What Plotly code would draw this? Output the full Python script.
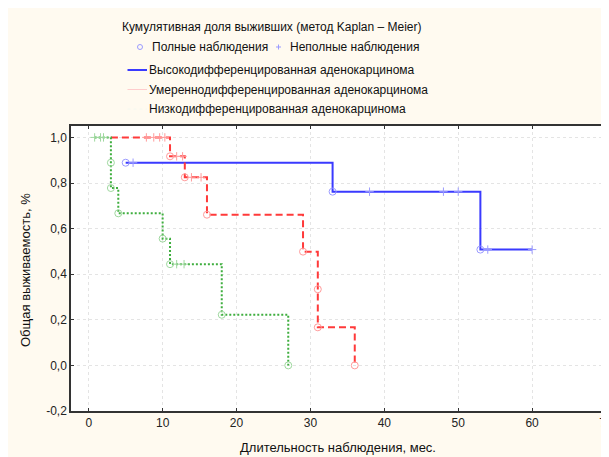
import plotly.graph_objects as go

# ---------------- data ----------------
# Step curves (Kaplan-Meier), points drawn with "hv" shape
high_t = [5, 33, 53, 60]
high_s = [0.889, 0.762, 0.508, 0.508]
mod_t = [3.0, 11, 13, 16, 29, 31, 36]
mod_s = [1.0, 0.917, 0.825, 0.661, 0.499, 0.167, 0.0]
low_t = [0.8, 3, 4, 10, 11, 18, 27]
low_s = [1.0, 0.778, 0.667, 0.556, 0.444, 0.222, 0.0]

# complete observations (events)
high_ev_t = [5, 33, 53]
high_ev_s = [0.889, 0.762, 0.508]
mod_ev_t = [11, 13, 16, 29, 31, 31, 36]
mod_ev_s = [0.917, 0.825, 0.661, 0.499, 0.334, 0.167, 0.0]
low_ev_t = [3, 3, 4, 10, 11, 18, 27]
low_ev_s = [0.889, 0.778, 0.667, 0.556, 0.444, 0.222, 0.0]

# censored observations
high_c_t = [6, 38, 48, 50, 54, 60]
high_c_s = [0.889, 0.762, 0.762, 0.762, 0.508, 0.508]
mod_c_t = [7.8, 8.8, 9.6, 10.3, 11.9, 12.7, 13.9, 15.2]
mod_c_s = [1.0, 1.0, 1.0, 1.0, 0.917, 0.917, 0.825, 0.825]
low_c_t = [0.8, 1.6, 2.0, 11.9, 12.9]
low_c_s = [1.0, 1.0, 1.0, 0.444, 0.444]

x_ticks = [0, 10, 20, 30, 40, 50, 60, 70]
y_ticks = [-0.2, 0.0, 0.2, 0.4, 0.6, 0.8, 1.0]
y_tick_text = ["-0,2", "0,0", "0,2", "0,4", "0,6", "0,8", "1,0"]

legend_title = "Кумулятивная доля выживших (метод Kaplan – Meier)"
legend_full = "Полные наблюдения"
legend_cens = "Неполные наблюдения"
group_names = ["Высокодифференцированная аденокарцинома",
               "Умереннодифференцированная аденокарцинома",
               "Низкодифференцированная аденокарцинома"]
x_title = "Длительность наблюдения, мес."
y_title = "Общая выживаемость, %"

# ---------------- styling ----------------
W, H = 609, 457
OFF = 8  # page body margin: figure is drawn 8px right/down in the window
L, R, T, B = 63, 11, 118, 54
PW, PH = W - L - R, H - T - B
FONT = "Arial, Liberation Sans, sans-serif"

BLUE, BLUE_L = "#3a3aff", "#9b9bff"
RED, RED_L = "#ff3a3a", "#ff9b9b"
GREEN, GREEN_L = "#3fae3f", "#9fd89f"


def px(x):
    # screen pixel x -> paper fraction
    return (x - OFF - L) / PW


def py(y):
    # screen pixel y -> paper fraction
    return (H - B - (y - OFF)) / PH


fig = go.Figure()

groups = [
    (high_t, high_s, high_ev_t, high_ev_s, high_c_t, high_c_s, BLUE, BLUE_L, "solid"),
    (mod_t, mod_s, mod_ev_t, mod_ev_s, mod_c_t, mod_c_s, RED, RED_L, "7px,4px"),
    (low_t, low_s, low_ev_t, low_ev_s, low_c_t, low_c_s, GREEN, GREEN_L, "2px,2px"),
]
for t, s, et, es, ct, cs, col, lcol, dash in groups:
    fig.add_trace(go.Scatter(x=t, y=s, mode="lines", line_shape="hv",
                             line=dict(color=col, width=2, dash=dash),
                             showlegend=False, hoverinfo="skip"))
for t, s, et, es, ct, cs, col, lcol, dash in groups:
    fig.add_trace(go.Scatter(x=ct, y=cs, mode="markers",
                             marker=dict(symbol="line-ns", size=6,
                                         line=dict(color=lcol, width=1)),
                             showlegend=False))
    fig.add_trace(go.Scatter(x=ct, y=cs, mode="markers",
                             marker=dict(symbol="line-ew", size=6,
                                         line=dict(color=lcol, width=1)),
                             showlegend=False))
    fig.add_trace(go.Scatter(x=et, y=es, mode="markers",
                             marker=dict(symbol="circle-open", size=7,
                                         color=lcol, line=dict(color=lcol, width=1)),
                             showlegend=False))

shapes = [
    # legend symbols
    dict(type="circle", xref="paper", yref="paper", x0=px(137.5), x1=px(142.5),
         y0=py(49.5), y1=py(44.5), line=dict(color=BLUE_L, width=1)),
    dict(type="line", xref="paper", yref="paper", x0=px(276), x1=px(281),
         y0=py(47), y1=py(47), line=dict(color=BLUE_L, width=1)),
    dict(type="line", xref="paper", yref="paper", x0=px(278.5), x1=px(278.5),
         y0=py(44.5), y1=py(49.5), line=dict(color=BLUE_L, width=1)),
    dict(type="line", xref="paper", yref="paper", x0=px(127.5), x1=px(147),
         y0=py(70), y1=py(70), line=dict(color=BLUE, width=2)),
    dict(type="line", xref="paper", yref="paper", x0=px(127.5), x1=px(147),
         y0=py(89.5), y1=py(89.5), line=dict(color="#ffcccc", width=1)),
    dict(type="line", xref="paper", yref="paper", x0=px(127.5), x1=px(147),
         y0=py(109), y1=py(109), line=dict(color="#f4f8f0", width=1, dash="dot")),
]

ann_font = dict(family=FONT, size=12, color="#111")
annotations = [
    dict(text=legend_title, x=px(271.5), y=py(27), xanchor="center", yanchor="middle"),
    dict(text=legend_full, x=px(150), y=py(47), xanchor="left", yanchor="middle"),
    dict(text=legend_cens, x=px(288), y=py(47), xanchor="left", yanchor="middle"),
    dict(text=group_names[0], x=px(147), y=py(70), xanchor="left", yanchor="middle"),
    dict(text=group_names[1], x=px(147), y=py(89.5), xanchor="left", yanchor="middle"),
    dict(text=group_names[2], x=px(147), y=py(109), xanchor="left", yanchor="middle"),
    dict(text=x_title, x=px(338), y=py(447), xanchor="center", yanchor="middle",
         font=dict(family=FONT, size=13, color="#111")),
    dict(text=y_title, x=px(25), y=py(270), xanchor="center", yanchor="middle",
         textangle=-90, font=dict(family=FONT, size=13, color="#111")),
]
for a in annotations:
    a.update(xref="paper", yref="paper", showarrow=False)
    a.setdefault("font", ann_font)

axis_common = dict(showline=True, linecolor="#333", linewidth=1.5, mirror="ticks",
                   ticks="inside", ticklen=3, tickcolor="#333", zeroline=False,
                   showgrid=True, gridcolor="#e4e4e4", griddash="dot", gridwidth=1,
                   automargin=False, ticklabeloverflow="allow",
                   tickfont=dict(family=FONT, size=12, color="#222"))

fig.update_layout(
    width=W, height=H,
    margin=dict(l=L, r=R, t=T, b=B),
    paper_bgcolor="#fffaf0",
    plot_bgcolor="white",
    showlegend=False,
    shapes=shapes,
    annotations=annotations,
    xaxis=dict(range=[-2.4, 70], tickvals=x_ticks, ticktext=[str(v) for v in x_ticks],
               **axis_common),
    yaxis=dict(range=[-0.2, 1.05], tickvals=y_ticks, ticktext=y_tick_text,
               **axis_common),
)

fig.write_html("out.html")
